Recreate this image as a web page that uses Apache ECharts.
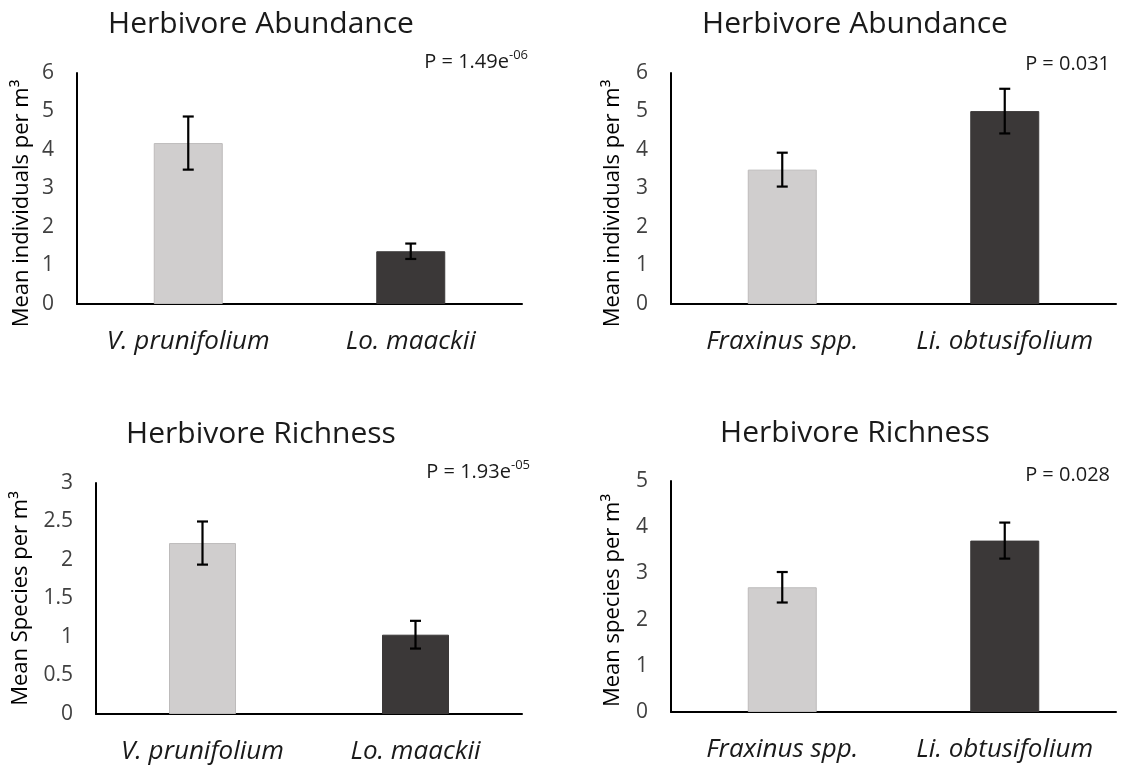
<!DOCTYPE html>
<html><head><meta charset="utf-8">
<script src="https://cdn.jsdelivr.net/npm/echarts@6/dist/echarts.min.js"></script>
<style>html,body{margin:0;padding:0;background:#fff}#c{width:1126px;height:769px}</style>
</head><body><div id="c"></div>
<script>
// ---- data ----
const catsLeft = ['V. prunifolium', 'Lo. maackii'];
const catsRight = ['Fraxinus spp.', 'Li. obtusifolium'];
const abundLeft = [4.18, 1.37];
const abundLeftErr = [0.69, 0.20];
const abundRight = [3.49, 5.01];
const abundRightErr = [0.44, 0.58];
const richLeft = [2.22, 1.03];
const richLeftErr = [0.28, 0.18];
const richRight = [2.70, 3.71];
const richRightErr = [0.33, 0.39];
const panelTitles = ['Herbivore Abundance', 'Herbivore Abundance', 'Herbivore Richness', 'Herbivore Richness'];
const yNames = ['Mean individuals per m³', 'Mean individuals per m³', 'Mean Species per m³', 'Mean species per m³'];
const pMain = ['P = 1.49e', 'P = 0.031', 'P = 1.93e', 'P = 0.028'];
const pSup = ['-06', '', '-05', ''];
const yMaxes = [6, 6, 3, 5];
const yIntervals = [1, 1, 0.5, 1];

// ---- layout / style ----
const FONT = 'Open Sans';
const panels = [
  {cats: catsLeft, vals: abundLeft, errs: abundLeftErr, grid: {left: 77, top: 73, width: 445, height: 231}, barW: 69, titleXY: [261, 24], pXY: [528, 62], yGap: 44, yPad: [0, 30, 0, 0]},
  {cats: catsRight, vals: abundRight, errs: abundRightErr, grid: {left: 671, top: 73, width: 445, height: 231}, barW: 69, titleXY: [855, 24], pXY: [1110, 64], yGap: 47, yPad: [0, 30, 0, 0]},
  {cats: catsLeft, vals: richLeft, errs: richLeftErr, grid: {left: 96, top: 483, width: 426, height: 231}, barW: 67, titleXY: [261, 434], pXY: [530, 472], yGap: 64, yPad: 0},
  {cats: catsRight, vals: richRight, errs: richRightErr, grid: {left: 671, top: 481, width: 445, height: 231}, barW: 69, titleXY: [855, 433], pXY: [1110, 475], yGap: 47, yPad: [0, 8, 0, 0]}
];
const barColors = ['#D0CECE', '#3B3838'];
const barBorders = ['#BDBBBB', '#3B3838'];

const grids = [], xAxes = [], yAxes = [], series = [], graphics = [];
panels.forEach((p, i) => {
  grids.push(Object.assign({containLabel: false}, p.grid));
  xAxes.push({
    type: 'category', gridIndex: i, data: p.cats,
    axisLine: {lineStyle: {color: '#000', width: 2}},
    axisTick: {show: false},
    axisLabel: {interval: 0, hideOverlap: false, fontFamily: FONT, fontStyle: 'italic', fontSize: 26, color: '#1a1a1a', margin: 25}
  });
  yAxes.push({
    type: 'value', gridIndex: i, min: 0, max: yMaxes[i], interval: yIntervals[i],
    axisLine: {show: true, lineStyle: {color: '#000', width: 2}},
    axisTick: {show: false}, splitLine: {show: false},
    axisLabel: {fontFamily: FONT, fontSize: 21, color: '#404040', margin: 23},
    name: yNames[i], nameLocation: 'middle', nameRotate: 90, nameGap: p.yGap,
    nameTextStyle: {fontFamily: FONT, fontSize: 22, color: '#000', padding: p.yPad}
  });
  series.push({
    type: 'bar', xAxisIndex: i, yAxisIndex: i, barWidth: p.barW,
    data: p.vals.map((v, k) => ({value: v, itemStyle: {color: barColors[k], borderColor: barBorders[k], borderWidth: 1}})),
    silent: true
  });
  series.push({
    type: 'custom', xAxisIndex: i, yAxisIndex: i, silent: true, z: 10,
    data: p.vals.map((v, k) => [k, v, p.errs[k]]),
    renderItem: function (params, api) {
      const x = api.value(0), v = api.value(1), e = api.value(2);
      const top = api.coord([x, v + e]);
      const bot = api.coord([x, v - e]);
      const cap = 5.5;
      const st = {stroke: '#000', lineWidth: 2.2};
      return {type: 'group', children: [
        {type: 'line', shape: {x1: top[0], y1: top[1], x2: bot[0], y2: bot[1]}, style: st},
        {type: 'line', shape: {x1: top[0] - cap, y1: top[1], x2: top[0] + cap, y2: top[1]}, style: st},
        {type: 'line', shape: {x1: bot[0] - cap, y1: bot[1], x2: bot[0] + cap, y2: bot[1]}, style: st}
      ]};
    }
  });
  graphics.push({
    type: 'text', x: p.titleXY[0], y: p.titleXY[1],
    style: {text: panelTitles[i], font: '30px "' + FONT + '"', fill: '#1a1a1a', align: 'center', verticalAlign: 'middle'}
  });
  graphics.push({
    type: 'text', x: p.pXY[0], y: p.pXY[1],
    style: {
      text: '{m|' + pMain[i] + '}' + (pSup[i] ? '{s|' + pSup[i] + '}' : ''),
      align: 'right', verticalAlign: 'middle',
      rich: {
        m: {fontFamily: FONT, fontSize: 20, fill: '#1a1a1a', lineHeight: 26},
        s: {fontFamily: FONT, fontSize: 13, fill: '#1a1a1a', lineHeight: 26, verticalAlign: 'top', padding: [0, 0, 10, 0]}
      }
    }
  });
});

const chart = echarts.init(document.getElementById('c'), null, {renderer: 'canvas'});
chart.setOption({
  backgroundColor: '#fff', animation: false,
  grid: grids, xAxis: xAxes, yAxis: yAxes, series: series, graphic: graphics
});
</script>
</body></html>
